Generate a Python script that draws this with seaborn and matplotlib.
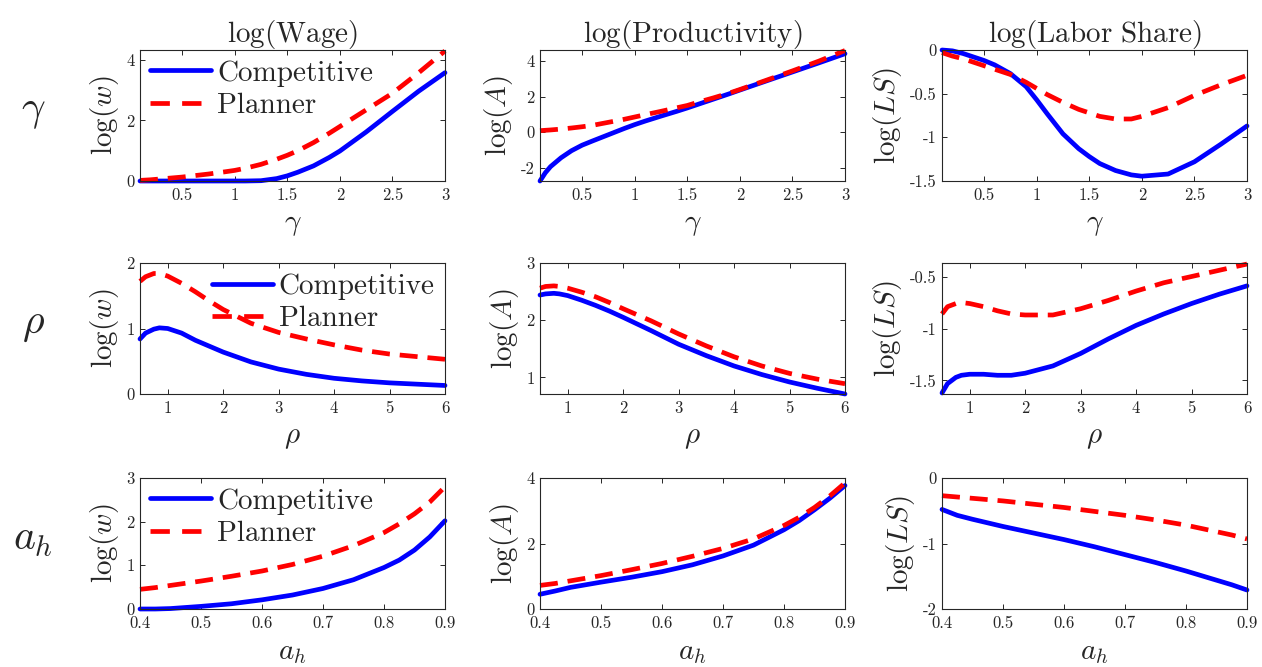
import pandas as pd
import seaborn as sns
import matplotlib.pyplot as plt
from matplotlib.ticker import FixedLocator, FuncFormatter

# grids for the three parameters
gamma_grid = [0.1, 0.15, 0.2, 0.3, 0.4, 0.5, 0.6, 0.75, 0.9, 1.0, 1.1, 1.25, 1.4, 1.5, 1.6, 1.75, 1.9, 2.0, 2.25, 2.5, 2.75, 3.0]
rho_grid = [0.5, 0.6, 0.75, 0.85, 1.0, 1.25, 1.5, 1.75, 2.0, 2.5, 3.0, 3.5, 4.0, 4.5, 5.0, 5.5, 6.0]
ah_grid = [0.4, 0.425, 0.45, 0.5, 0.55, 0.6, 0.65, 0.7, 0.75, 0.8, 0.825, 0.85, 0.875, 0.9]

# row 1: gamma
wage_comp_gamma = [0, 0, 0, 0, 0, 0, 0, 0, 0, 0, 0, 0.01, 0.08, 0.17, 0.29, 0.5, 0.78, 0.99, 1.62, 2.3, 2.97, 3.58]
wage_plan_gamma = [0.02, 0.03, 0.04, 0.07, 0.1, 0.13, 0.17, 0.23, 0.3, 0.35, 0.42, 0.55, 0.72, 0.85, 1.0, 1.27, 1.58, 1.8, 2.35, 2.9, 3.58, 4.3]
prod_comp_gamma = [-2.76, -2.3, -1.95, -1.45, -1.05, -0.74, -0.5, -0.15, 0.2, 0.42, 0.62, 0.9, 1.17, 1.36, 1.56, 1.86, 2.16, 2.37, 2.88, 3.39, 3.9, 4.42]
prod_plan_gamma = [0.08, 0.1, 0.12, 0.17, 0.23, 0.3, 0.38, 0.55, 0.72, 0.85, 0.98, 1.17, 1.37, 1.5, 1.68, 1.93, 2.2, 2.4, 2.92, 3.45, 4.0, 4.6]
ls_comp_gamma = [0, -0.005, -0.01, -0.04, -0.08, -0.12, -0.17, -0.27, -0.42, -0.57, -0.73, -0.96, -1.13, -1.22, -1.3, -1.38, -1.43, -1.445, -1.42, -1.28, -1.08, -0.87]
ls_plan_gamma = [-0.03, -0.05, -0.07, -0.1, -0.14, -0.18, -0.22, -0.28, -0.37, -0.44, -0.51, -0.6, -0.68, -0.72, -0.76, -0.79, -0.79, -0.76, -0.66, -0.52, -0.4, -0.29]

# row 2: rho
wage_comp_rho = [0.84, 0.93, 0.99, 1.01, 1.0, 0.93, 0.82, 0.73, 0.64, 0.49, 0.38, 0.3, 0.24, 0.2, 0.17, 0.15, 0.13]
wage_plan_rho = [1.72, 1.79, 1.84, 1.84, 1.8, 1.69, 1.56, 1.42, 1.29, 1.08, 0.94, 0.84, 0.75, 0.67, 0.61, 0.57, 0.53]
prod_comp_rho = [2.44, 2.46, 2.47, 2.46, 2.43, 2.35, 2.26, 2.16, 2.05, 1.82, 1.58, 1.38, 1.2, 1.05, 0.92, 0.81, 0.71]
prod_plan_rho = [2.56, 2.59, 2.6, 2.59, 2.56, 2.49, 2.41, 2.31, 2.2, 1.99, 1.76, 1.55, 1.36, 1.2, 1.07, 0.97, 0.89]
ls_comp_rho = [-1.62, -1.53, -1.47, -1.45, -1.44, -1.44, -1.45, -1.45, -1.43, -1.36, -1.24, -1.1, -0.97, -0.86, -0.76, -0.67, -0.59]
ls_plan_rho = [-0.86, -0.79, -0.76, -0.75, -0.76, -0.79, -0.83, -0.86, -0.87, -0.87, -0.81, -0.73, -0.64, -0.56, -0.5, -0.44, -0.38]

# row 3: a_h
wage_comp_ah = [0.0, 0.0, 0.01, 0.06, 0.12, 0.21, 0.32, 0.47, 0.67, 0.95, 1.12, 1.35, 1.65, 2.02]
wage_plan_ah = [0.45, 0.49, 0.54, 0.64, 0.75, 0.87, 1.02, 1.21, 1.45, 1.75, 1.95, 2.18, 2.45, 2.8]
prod_comp_ah = [0.45, 0.55, 0.66, 0.82, 0.97, 1.14, 1.35, 1.62, 1.95, 2.42, 2.7, 3.03, 3.38, 3.77]
prod_plan_ah = [0.72, 0.78, 0.86, 1.02, 1.2, 1.39, 1.61, 1.85, 2.14, 2.55, 2.8, 3.1, 3.45, 3.85]
ls_comp_ah = [-0.48, -0.57, -0.63, -0.74, -0.84, -0.94, -1.05, -1.17, -1.29, -1.42, -1.49, -1.56, -1.63, -1.71]
ls_plan_ah = [-0.27, -0.29, -0.31, -0.35, -0.4, -0.45, -0.51, -0.57, -0.64, -0.72, -0.77, -0.82, -0.87, -0.93]

col_titles = [r'$\log(\mathrm{Wage})$', r'$\log(\mathrm{Productivity})$', r'$\log(\mathrm{Labor\ Share})$']
row_names = [r'$\gamma$', r'$\rho$', r'$a_h$']
y_names = [r'$\log(w)$', r'$\log(A)$', r'$\log(LS)$']
models = ['Competitive', 'Planner']

sns.set_style('ticks')
plt.rcParams['font.family'] = 'serif'
plt.rcParams['font.serif'] = ['cmr10']
plt.rcParams['mathtext.fontset'] = 'cm'
plt.rcParams['axes.unicode_minus'] = False

panels = [
    [(gamma_grid, wage_comp_gamma, wage_plan_gamma), (gamma_grid, prod_comp_gamma, prod_plan_gamma), (gamma_grid, ls_comp_gamma, ls_plan_gamma)],
    [(rho_grid, wage_comp_rho, wage_plan_rho), (rho_grid, prod_comp_rho, prod_plan_rho), (rho_grid, ls_comp_rho, ls_plan_rho)],
    [(ah_grid, wage_comp_ah, wage_plan_ah), (ah_grid, prod_comp_ah, prod_plan_ah), (ah_grid, ls_comp_ah, ls_plan_ah)],
]

xlims = [(0.1, 3), (0.5, 6), (0.4, 0.9)]
xticks = [[0.5, 1, 1.5, 2, 2.5, 3], [1, 2, 3, 4, 5, 6], [0.4, 0.5, 0.6, 0.7, 0.8, 0.9]]
ylims = [[(0, 4.33), (-2.76, 4.63), (-1.5, 0)],
         [(0, 2), (0.71, 3), (-1.63, -0.37)],
         [(0, 3), (0, 4), (-2, 0)]]
yticks = [[[0, 2, 4], [-2, 0, 2, 4], [-1.5, -1, -0.5, 0]],
          [[0, 1, 2], [1, 2, 3], [-1.5, -1, -0.5]],
          [[0, 1, 2, 3], [0, 2, 4], [-2, -1, 0]]]

W, H = 1262, 667
col_left = [140, 540, 942]
row_top = [50, 263, 478]
ax_w, ax_h = 305, 131

fig = plt.figure(figsize=(12.62, 6.67), dpi=100)
fmt = FuncFormatter(lambda v, pos: f'{v:g}')

for r in range(3):
    for c in range(3):
        ax = fig.add_axes([col_left[c] / W, 1 - (row_top[r] + ax_h) / H, ax_w / W, ax_h / H])
        x, comp, plan = panels[r][c]
        df = pd.DataFrame({'x': list(x) * 2,
                           'y': list(comp) + list(plan),
                           'model': ['Competitive'] * len(x) + ['Planner'] * len(x)})
        sns.lineplot(data=df, x='x', y='y', hue='model', style='model',
                     palette={'Competitive': (0, 0, 1), 'Planner': (1, 0, 0)},
                     dashes={'Competitive': '', 'Planner': (3.8, 2.1)},
                     linewidth=3.4, estimator=None, legend=False, ax=ax)
        for ln in ax.get_lines():
            ln.set_clip_on(False)
        ax.set_xlim(*xlims[r])
        ax.set_ylim(*ylims[r][c])
        ax.xaxis.set_major_locator(FixedLocator(xticks[r]))
        ax.yaxis.set_major_locator(FixedLocator(yticks[r][c]))
        ax.xaxis.set_major_formatter(fmt)
        ax.yaxis.set_major_formatter(fmt)
        ax.tick_params(direction='in', top=True, right=True, length=3.5, width=0.7,
                       labelsize=12, colors='#262626')
        ax.tick_params(axis='x', pad=5)
        ax.tick_params(axis='y', pad=4)
        for sp in ax.spines.values():
            sp.set_color('#262626')
            sp.set_linewidth(0.8)
        ax.set_xlabel(row_names[r], fontsize=21, labelpad=6)
        ax.set_ylabel(y_names[c], fontsize=21, labelpad=4)
        if r == 0:
            ax.set_title(col_titles[c], fontsize=21, pad=6)
        if c == 0:
            lines = ax.get_lines()[:2]
            leg = ax.legend(lines, models, loc='upper left' if r != 1 else 'upper right',
                            fontsize=21, frameon=False, handlelength=2.1, handletextpad=0.2,
                            labelspacing=0.2, borderaxespad=0.15, borderpad=0.2)
            # two full dashes in the legend key, as in the original
            leg.get_lines()[1].set_dashes((4.1, 2.6))

for r in range(3):
    fig.text(33 / W, 1 - (row_top[r] + 62) / H, row_names[r], fontsize=30,
             ha='center', va='center')

fig.savefig('out.png', dpi=100)
